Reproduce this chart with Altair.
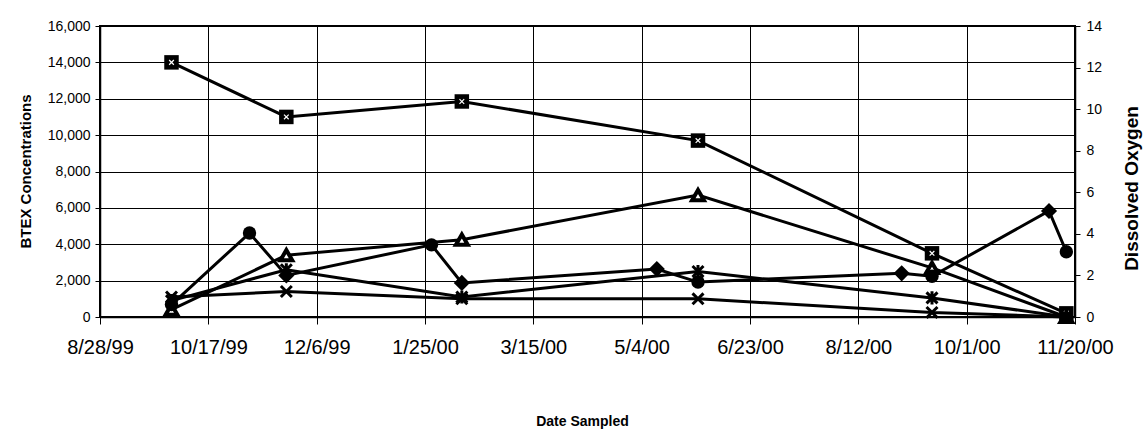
import altair as alt
import pandas as pd

# ---- data ----
sample_dates = ["1999-09-30", "1999-11-22", "2000-02-11", "2000-05-30", "2000-09-15", "2000-11-16"]
total_btex = [14000, 11000, 11850, 9700, 3500, 200]
series_tri = [400, 3400, 4250, 6700, 2700, 0]
series_star = [900, 2600, 1100, 2500, 1050, 0]
series_x = [1100, 1400, 1000, 1000, 250, 0]

do_dates = ["1999-09-30", "1999-11-05", "1999-11-22", "2000-01-28", "2000-02-11",
            "2000-05-11", "2000-05-30", "2000-09-01", "2000-09-15", "2000-11-08", "2000-11-16"]
do_values = [0.6, 4.04, 2.0, 3.47, 1.64, 2.31, 1.68, 2.1, 1.96, 5.1, 3.14]
do_markers = ["circle", "circle", "diamond", "circle", "diamond", "diamond",
              "circle", "diamond", "circle", "diamond", "circle"]

x_tick_dates = [(1999, 8, 28), (1999, 10, 17), (1999, 12, 6), (2000, 1, 25), (2000, 3, 15),
                (2000, 5, 4), (2000, 6, 23), (2000, 8, 12), (2000, 10, 1), (2000, 11, 20)]
left_ticks = [0, 2000, 4000, 6000, 8000, 10000, 12000, 14000, 16000]
right_ticks = [0, 2, 4, 6, 8, 10, 12, 14]

FONT = "Liberation Sans"

rows = []
for name, vals in [("Total BTEX", total_btex), ("Triangle", series_tri),
                   ("Asterisk", series_star), ("Cross", series_x)]:
    for d, v in zip(sample_dates, vals):
        rows.append({"date": pd.Timestamp(d), "value": v, "series": name})
left_df = pd.DataFrame(rows)

do_df = pd.DataFrame({"date": pd.to_datetime(do_dates), "do": do_values, "marker": do_markers})

x_enc = alt.X(
    "date:T",
    scale=alt.Scale(domain=[alt.DateTime(year=1999, month=8, date=28),
                            alt.DateTime(year=2000, month=11, date=20)], nice=False),
    axis=alt.Axis(
        values=[alt.DateTime(year=y, month=m, date=d) for (y, m, d) in x_tick_dates],
        format="%-m/%-d/%y", labelFontSize=20, labelFont=FONT, labelPadding=13,
        tickSize=7, grid=True, title="Date Sampled", titleFont=FONT, titleFontSize=14,
        titleFontWeight="bold", titleX=482, titleY=104, titleBaseline="middle",
        labelFlush=False, labelOverlap=False,
    ),
)

y_left = alt.Y(
    "value:Q",
    scale=alt.Scale(domain=[0, 16000], nice=False),
    axis=alt.Axis(
        values=left_ticks, format=",.0f", labelFontSize=14, labelFont=FONT, labelPadding=5,
        tickSize=5, grid=True, title="BTEX Concentrations", titleFont=FONT,
        titleFontSize=15, titleFontWeight="bold", titleX=-75, titleY=145,
        titleAngle=270, titleBaseline="middle", titleAlign="center",
    ),
)

y_right = alt.Y(
    "do:Q",
    scale=alt.Scale(domain=[0, 14], nice=False),
    axis=alt.Axis(
        orient="right", values=right_ticks, labelFontSize=14, labelFont=FONT,
        labelPadding=6, tickSize=5, grid=False, title="Dissolved Oxygen", titleFont=FONT,
        titleFontSize=19, titleFontWeight="bold", titleX=56, titleY=162,
        titleAngle=270, titleBaseline="middle", titleAlign="center",
    ),
)

base = alt.Chart(left_df).encode(x=x_enc, y=y_left)

lines = base.mark_line(color="black", strokeWidth=3).encode(detail="series:N")

sq = base.transform_filter(alt.datum.series == "Total BTEX").mark_point(
    shape="square", filled=True, color="black", size=210, opacity=1)
sq_in = base.transform_filter(alt.datum.series == "Total BTEX").mark_point(
    shape="M-1,-1L1,1M-1,1L1,-1", filled=False, color="white", strokeWidth=1.2,
    size=22, opacity=1)
tri = base.transform_filter(alt.datum.series == "Triangle").mark_point(
    shape="triangle-up", filled=False, color="black", fill="white", fillOpacity=1,
    strokeWidth=4, size=140, opacity=1)
star = base.transform_filter(alt.datum.series == "Asterisk").mark_point(
    shape="M-1,-1L1,1M-1,1L1,-1M0,-1.2L0,1.2", filled=False, color="black",
    strokeWidth=3, size=120, opacity=1)
xx = base.transform_filter(alt.datum.series == "Cross").mark_point(
    shape="M-1,-1L1,1M-1,1L1,-1", filled=False, color="black",
    strokeWidth=3, size=120, opacity=1)

left = alt.layer(lines, sq, sq_in, tri, star, xx)

do_base = alt.Chart(do_df).encode(x=x_enc, y=y_right)
do_line = do_base.mark_line(color="black", strokeWidth=3)
do_pts = do_base.mark_point(filled=True, color="black", opacity=1).encode(
    shape=alt.Shape("marker:N", scale=alt.Scale(domain=["circle", "diamond"],
                                                range=["circle", "diamond"]), legend=None),
    size=alt.Size("marker:N", scale=alt.Scale(domain=["circle", "diamond"],
                                              range=[180, 260]), legend=None),
)
right = alt.layer(do_line, do_pts)

chart = alt.layer(left, right).resolve_scale(y="independent").properties(
    width=975, height=291,
    autosize=alt.AutoSizeParams(type="none"),
    padding={"left": 100, "top": 26, "right": 68, "bottom": 116},
    background="white",
).configure_view(stroke="black", strokeWidth=2).configure_axis(
    domainColor="black", tickColor="black", gridColor="black", gridOpacity=1,
    gridWidth=1, labelColor="black", titleColor="black", domainWidth=1.5,
)

chart.save("out.html", embed_options={"renderer": "svg", "actions": False})
